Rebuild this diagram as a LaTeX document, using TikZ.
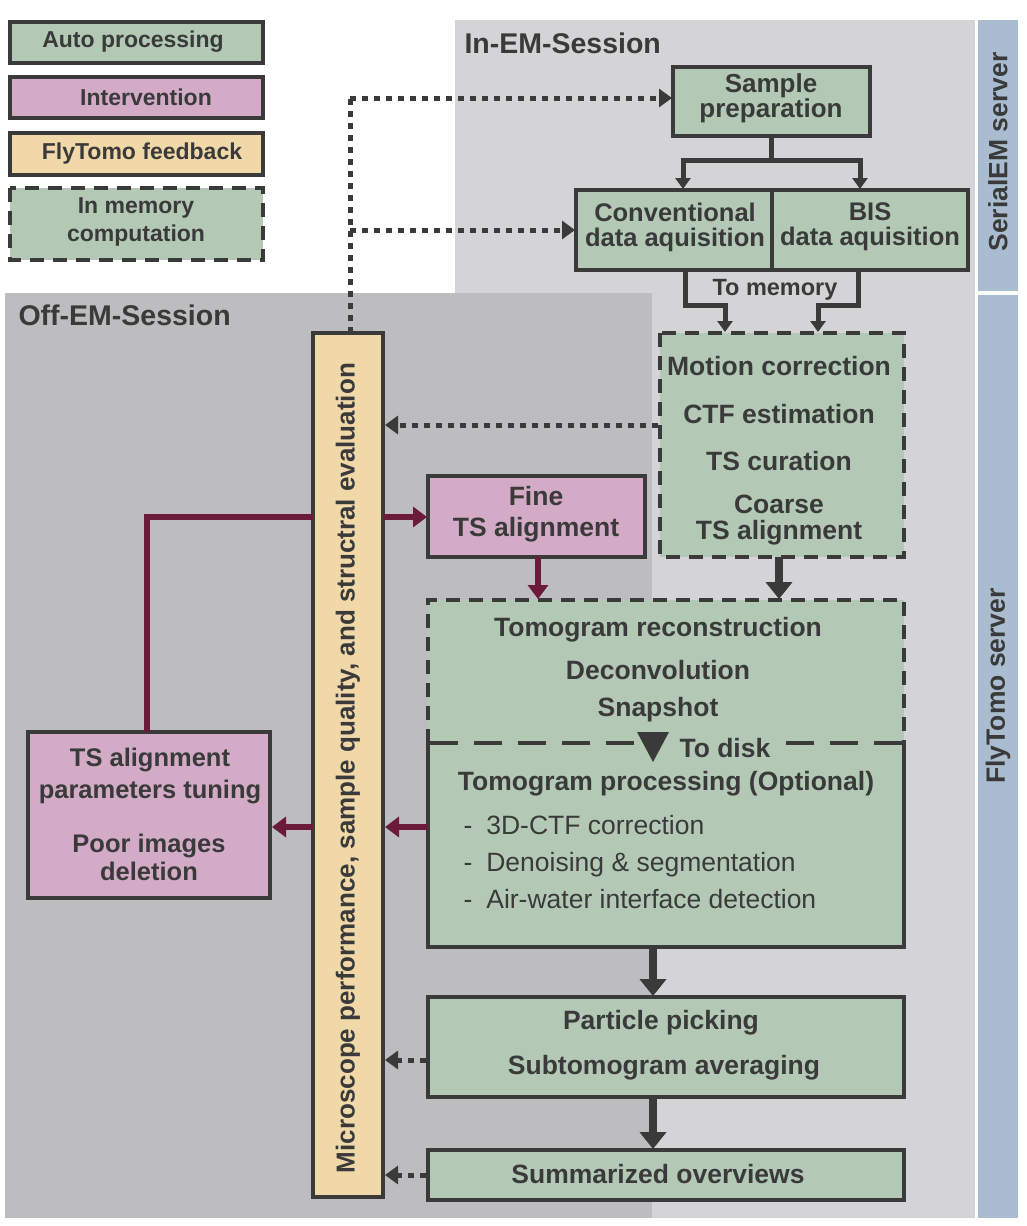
\documentclass[tikz,border=0pt]{standalone}
\usepackage{fontspec}
\setmainfont{Liberation Sans}
\usetikzlibrary{arrows.meta}
\definecolor{lgray}{HTML}{D4D4D6}
\definecolor{dgray}{HTML}{BDBDBF}
\definecolor{strip}{HTML}{AABDD0}
\definecolor{gbox}{HTML}{B3C9B6}
\definecolor{pbox}{HTML}{D3ABC6}
\definecolor{tbox}{HTML}{F1D8A9}
\definecolor{bord}{HTML}{3A3A3A}
\definecolor{maroon}{HTML}{6B1A3A}
\tikzset{
 box/.style={draw=bord,line width=3.5pt,inner sep=0pt},
 auto/.style={box,fill=gbox},
 interv/.style={box,fill=pbox},
 memb/.style={draw=bord,line width=3.5pt,dash pattern=on 14pt off 9pt,fill=gbox},
 lbl/.style={font=\fontsize{26.5}{28}\selectfont\bfseries,text=bord,align=center},
 sm/.style={font=\fontsize{23}{28}\selectfont\bfseries,text=bord,align=center},
 thick arr/.style={draw=bord,line width=8pt,-{Triangle[length=17pt,width=26pt]}},
 mid arr/.style={draw=bord,line width=5pt,-{Triangle[length=11pt,width=15pt]}},
 dots/.style={draw=bord,line width=5pt,dash pattern=on 6pt off 6pt,-{Triangle[length=13pt,width=18pt]}},
 dotsn/.style={draw=bord,line width=5pt,dash pattern=on 6pt off 6pt},
 mar/.style={draw=maroon,line width=6pt,-{Triangle[length=14pt,width=20pt]}},
 marn/.style={draw=maroon,line width=6pt},
}
\begin{document}
\begin{tikzpicture}[x=1pt,y=-1pt]
\useasboundingbox (0,0) rectangle (1026,1226);
\fill[white] (0,0) rectangle (1026,1226);
% regions
\fill[lgray] (455,20) rectangle (975,1218);
\fill[dgray] (5,293) rectangle (652,1218);
\fill[strip] (978,20) rectangle (1018,291);
\fill[strip] (978,295) rectangle (1018,1218);
\node[font=\fontsize{28.5}{30}\selectfont\bfseries,text=bord,anchor=west] (inem) at (461,43) {In-EM-Session};
\node[font=\fontsize{28.5}{30}\selectfont\bfseries,text=bord,anchor=west] (offem) at (15,315) {Off-EM-Session};
\node[font=\fontsize{26.5}{28}\selectfont\bfseries,text=bord,rotate=90] (serial) at (998,152) {SerialEM server};
\node[font=\fontsize{26.5}{28}\selectfont\bfseries,text=bord,rotate=90] (fly) at (998,686) {FlyTomo server};
% legend
\draw[auto] (10,22) rectangle (263,63); \node[sm] (l1) at (133,42) {Auto processing};
\draw[interv] (10,77) rectangle (263,118); \node[sm] (l2) at (146,97) {Intervention};
\draw[box,fill=tbox] (10,133) rectangle (263,175); \node[sm] (l3) at (142,154) {FlyTomo feedback};
\draw[memb] (10,188) rectangle (263,260); \node[sm,font=\fontsize{23}{28}\selectfont\bfseries] (l4) at (136,222) {In memory\\computation};
% boxes
\draw[auto] (673,67) rectangle (870,136); \node[lbl,font=\fontsize{26}{23}\selectfont\bfseries] (sp) at (771,98) {Sample\\preparation};
\draw[auto] (576,190) rectangle (772,270); \node[lbl,font=\fontsize{25.5}{25}\selectfont\bfseries] (conv) at (675,227) {Conventional\\data aquisition};
\draw[auto] (772,190) rectangle (968,270); \node[lbl,font=\fontsize{25.5}{25}\selectfont\bfseries] (bis) at (870,227) {BIS\\data aquisition};
\draw[memb] (660,333) rectangle (904,557);
\node[lbl] (mc) at (779,366) {Motion correction};
\node[lbl] (ctf) at (779,414) {CTF estimation};
\node[lbl] (tsc) at (779,461) {TS curation};
\node[lbl,font=\fontsize{26.5}{26}\selectfont\bfseries] (coarse) at (779,520) {Coarse\\TS alignment};
\draw[interv] (428,476) rectangle (645,557); \node[lbl,font=\fontsize{26.5}{31}\selectfont\bfseries] (fine) at (536,514) {Fine\\TS alignment};
% tomogram block
\fill[gbox] (428,600) rectangle (904,947);
\draw[box] (428,743) -- (428,947) -- (904,947) -- (904,743);
\draw[draw=bord,line width=3.5pt,dash pattern=on 14pt off 9pt] (428,743) -- (428,600) -- (904,600) -- (904,743);
\draw[draw=bord,line width=3.5pt,dash pattern=on 28pt off 16pt] (430,743) -- (635,743);
\draw[draw=bord,line width=3.5pt,dash pattern=on 28pt off 16pt] (902,743) -- (780,743);
\node[lbl] (tr) at (658,630) {Tomogram reconstruction};
\node[lbl] (dec) at (658,670) {Deconvolution};
\node[lbl] (snap) at (658,710) {Snapshot};
\fill[bord] (637,732) -- (669,732) -- (653,762) -- cycle;
\node[lbl,anchor=west] (todisk) at (676,748) {To disk};
\node[lbl] (tp) at (666,784) {Tomogram processing (Optional)};
\node[font=\fontsize{26.5}{37}\selectfont,text=bord,align=left,anchor=north west] (list) at (460,812) {-\hspace{14pt}3D-CTF correction\\-\hspace{14pt}Denoising \& segmentation\\-\hspace{14pt}Air-water interface detection};
\draw[auto] (428,997) rectangle (904,1097);
\node[lbl] (pp) at (661,1023) {Particle picking};
\node[lbl] (sta) at (664,1068) {Subtomogram averaging};
\draw[auto] (428,1150) rectangle (904,1200); \node[lbl] (sum) at (658,1174) {Summarized overviews};
\draw[interv] (28,732) rectangle (270,898);
\node[lbl,font=\fontsize{25.5}{32}\selectfont\bfseries] (tsp) at (150,776) {TS alignment\\parameters tuning};
\node[lbl,font=\fontsize{25.5}{28}\selectfont\bfseries] (poor) at (149,857) {Poor images\\deletion};
% connectors
\draw[dotsn] (350,333) -- (350,98);
\draw[dots] (350,98) -- (672,98);
\draw[dots] (350,230) -- (575,230);
\draw[marn] (147,732) -- (147,517) -- (300,517);
\draw[box,fill=tbox] (313,333) rectangle (383,1197);
\node[font=\fontsize{26}{28}\selectfont\bfseries,text=bord,rotate=90] (fb) at (348,768) {Microscope performance, sample quality, and structral evaluation};
\draw[mar] (383,517) -- (427,517);
\draw[marn] (300,517) -- (313,517);
\draw[draw=bord,line width=5pt] (771,136) -- (771,160);
\draw[mid arr] (683,158) -- (683,189);
\draw[mid arr] (860,158) -- (860,189);
\draw[draw=bord,line width=5pt] (680.5,160) -- (862.5,160);
\draw[mid arr] (685,270) -- (685,305) -- (725,305) -- (725,332);
\draw[mid arr] (858,270) -- (858,305) -- (818,305) -- (818,332);
\node[sm,font=\fontsize{23.5}{24}\selectfont\bfseries] (tomem) at (775,290) {To memory};
\draw[dots] (658,425) -- (385,425);
\draw[thick arr] (779,557) -- (779,599);
\draw[mar] (538,557) -- (538,599);
\draw[mar] (428,827) -- (385,827);
\draw[mar] (313,827) -- (272,827);
\draw[thick arr] (653,947) -- (653,996);
\draw[thick arr] (653,1097) -- (653,1149);
\draw[dots] (426,1060) -- (385,1060);
\draw[dots] (426,1175) -- (385,1175);
\end{tikzpicture}
\end{document}
